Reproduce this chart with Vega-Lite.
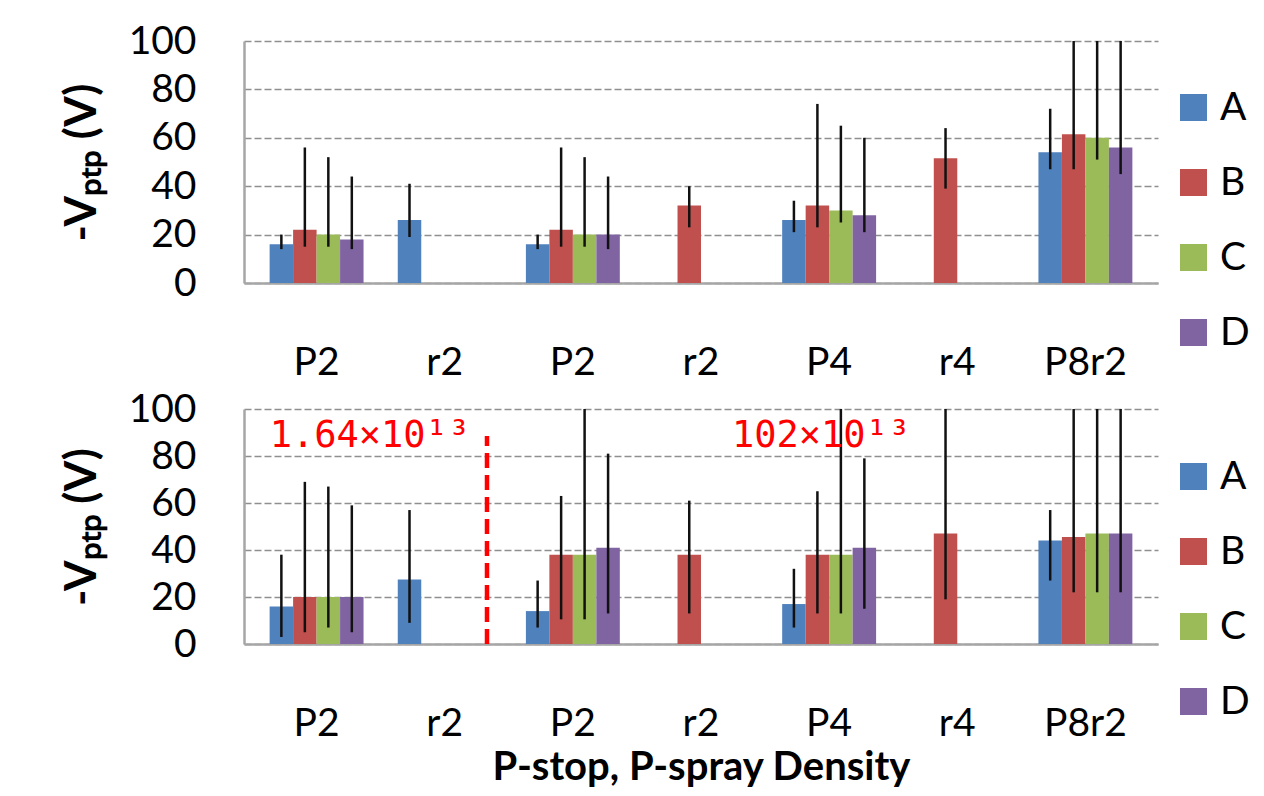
{
  "$schema": "https://vega.github.io/schema/vega-lite/v6.json",
  "background": "white",
  "padding": {"left": 60, "top": 22, "right": 5, "bottom": 5},
  "config": {
    "font": "Lato",
    "view": {"stroke": null},
    "axis": {"labelColor": "black", "titleColor": "black"},
    "legend": {"padding": 0}
  },
  "datasets": {
    "top": [
      {"grp": "P2_a", "s": "A", "v": 16, "lo": 14, "hi": 20},
      {"grp": "P2_a", "s": "B", "v": 22, "lo": 15, "hi": 56},
      {"grp": "P2_a", "s": "C", "v": 20, "lo": 15, "hi": 52},
      {"grp": "P2_a", "s": "D", "v": 18, "lo": 14, "hi": 44},
      {"grp": "r2_a", "s": "A", "v": 26, "lo": 19, "hi": 41},
      {"grp": "P2_b", "s": "A", "v": 16, "lo": 14, "hi": 20},
      {"grp": "P2_b", "s": "B", "v": 22, "lo": 15, "hi": 56},
      {"grp": "P2_b", "s": "C", "v": 20, "lo": 15, "hi": 52},
      {"grp": "P2_b", "s": "D", "v": 20, "lo": 14, "hi": 44},
      {"grp": "r2_b", "s": "B", "v": 32, "lo": 23, "hi": 40},
      {"grp": "P4", "s": "A", "v": 26, "lo": 21, "hi": 34},
      {"grp": "P4", "s": "B", "v": 32, "lo": 23, "hi": 74},
      {"grp": "P4", "s": "C", "v": 30, "lo": 25, "hi": 65},
      {"grp": "P4", "s": "D", "v": 28, "lo": 21, "hi": 60},
      {"grp": "r4", "s": "B", "v": 51.5, "lo": 39, "hi": 64},
      {"grp": "P8r2", "s": "A", "v": 54, "lo": 47, "hi": 72},
      {"grp": "P8r2", "s": "B", "v": 61.5, "lo": 47, "hi": 100},
      {"grp": "P8r2", "s": "C", "v": 60, "lo": 51, "hi": 100},
      {"grp": "P8r2", "s": "D", "v": 56, "lo": 45, "hi": 100}
    ],
    "bot": [
      {"grp": "P2_a", "s": "A", "v": 16, "lo": 3, "hi": 38},
      {"grp": "P2_a", "s": "B", "v": 20, "lo": 5, "hi": 69},
      {"grp": "P2_a", "s": "C", "v": 20, "lo": 7, "hi": 67},
      {"grp": "P2_a", "s": "D", "v": 20, "lo": 5, "hi": 59},
      {"grp": "r2_a", "s": "A", "v": 27.5, "lo": 9, "hi": 57},
      {"grp": "P2_b", "s": "A", "v": 14, "lo": 7, "hi": 27},
      {"grp": "P2_b", "s": "B", "v": 38, "lo": 10.5, "hi": 63},
      {"grp": "P2_b", "s": "C", "v": 38, "lo": 10.5, "hi": 100},
      {"grp": "P2_b", "s": "D", "v": 41, "lo": 13, "hi": 81},
      {"grp": "r2_b", "s": "B", "v": 38, "lo": 13, "hi": 61},
      {"grp": "P4", "s": "A", "v": 17, "lo": 7, "hi": 32},
      {"grp": "P4", "s": "B", "v": 38, "lo": 13, "hi": 65},
      {"grp": "P4", "s": "C", "v": 38, "lo": 13, "hi": 100},
      {"grp": "P4", "s": "D", "v": 41, "lo": 15, "hi": 79},
      {"grp": "r4", "s": "B", "v": 47, "lo": 19, "hi": 100},
      {"grp": "P8r2", "s": "A", "v": 44, "lo": 27, "hi": 57},
      {"grp": "P8r2", "s": "B", "v": 45.5, "lo": 22, "hi": 100},
      {"grp": "P8r2", "s": "C", "v": 47, "lo": 22, "hi": 100},
      {"grp": "P8r2", "s": "D", "v": 47, "lo": 22, "hi": 100}
    ]
  },
  "vconcat": [
    {
      "width": 914,
      "height": 242,
      "data": {"name": "top"},
      "encoding": {
        "x": {
          "field": "grp", "type": "nominal",
          "scale": {"domain": ["P2_a", "r2_a", "P2_b", "r2_b", "P4", "r4", "P8r2"], "paddingInner": 0.267},
          "axis": {"title": null, "labelExpr": "split(datum.label, '_')[0]", "labelAngle": 0, "labelFontSize": 39, "labelPadding": 60, "ticks": false, "domainColor": "#a6a6a6", "domainWidth": 2.5, "labelBaseline": "top"}
        },
        "xOffset": {"field": "s", "type": "nominal", "scale": {"domain": ["A", "B", "C", "D"], "paddingInner": 0}}
      },
      "layer": [
        {
          "mark": {"type": "bar"},
          "encoding": {
            "y": {
              "field": "v", "type": "quantitative",
              "scale": {"domain": [0, 100], "nice": false},
              "axis": {"title": "-Vₚₜₚ (V)", "titleFontSize": 44, "titleFontWeight": "bold", "titlePadding": 24, "values": [0, 20, 40, 60, 80, 100], "labelFontSize": 39, "labelPadding": 48, "ticks": false, "domainColor": "#a6a6a6", "domainWidth": 2.5, "gridColor": "#8f8f8f", "gridDash": [7, 3], "gridWidth": 1.5}
            },
            "color": {
              "field": "s", "type": "nominal",
              "scale": {"domain": ["A", "B", "C", "D"], "range": ["#4F81BD", "#C0504D", "#9BBB59", "#8064A2"]},
              "legend": {"title": null, "orient": "none", "legendX": 930, "legendY": 47, "symbolType": "square", "symbolSize": 729, "symbolStrokeWidth": 0, "labelFontSize": 39, "labelOffset": 7, "rowPadding": 35}
            }
          }
        },
        {
          "mark": {"type": "rule", "color": "#111111", "strokeWidth": 2.5},
          "encoding": {
            "y": {"field": "lo", "type": "quantitative"},
            "y2": {"field": "hi"}
          }
        }
      ]
    },
    {
      "width": 914,
      "height": 235,
      "encoding": {
        "x": {
          "field": "grp", "type": "nominal",
          "scale": {"domain": ["P2_a", "r2_a", "P2_b", "r2_b", "P4", "r4", "P8r2"], "paddingInner": 0.267},
          "axis": {"title": "P-stop, P-spray Density", "titleFontSize": 40, "titleFontWeight": "bold", "titlePadding": 4, "labelExpr": "split(datum.label, '_')[0]", "labelAngle": 0, "labelFontSize": 39, "labelPadding": 60, "ticks": false, "domainColor": "#a6a6a6", "domainWidth": 2.5, "labelBaseline": "top"}
        }
      },
      "layer": [
        {
          "data": {"name": "bot"},
          "mark": {"type": "bar"},
          "encoding": {
            "xOffset": {"field": "s", "type": "nominal", "scale": {"domain": ["A", "B", "C", "D"], "paddingInner": 0}},
            "y": {
              "field": "v", "type": "quantitative",
              "scale": {"domain": [0, 100], "nice": false},
              "axis": {"title": "-Vₚₜₚ (V)", "titleFontSize": 44, "titleFontWeight": "bold", "titlePadding": 24, "values": [0, 20, 40, 60, 80, 100], "labelFontSize": 39, "labelPadding": 48, "ticks": false, "domainColor": "#a6a6a6", "domainWidth": 2.5, "gridColor": "#8f8f8f", "gridDash": [7, 3], "gridWidth": 1.5}
            },
            "color": {
              "field": "s", "type": "nominal",
              "scale": {"domain": ["A", "B", "C", "D"], "range": ["#4F81BD", "#C0504D", "#9BBB59", "#8064A2"]},
              "legend": {"title": null, "orient": "none", "legendX": 930, "legendY": 48, "symbolType": "square", "symbolSize": 729, "symbolStrokeWidth": 0, "labelFontSize": 39, "labelOffset": 7, "rowPadding": 35}
            }
          }
        },
        {
          "data": {"name": "bot"},
          "mark": {"type": "rule", "color": "#111111", "strokeWidth": 2.5},
          "encoding": {
            "xOffset": {"field": "s", "type": "nominal", "scale": {"domain": ["A", "B", "C", "D"], "paddingInner": 0}},
            "y": {"field": "lo", "type": "quantitative"},
            "y2": {"field": "hi"}
          }
        },
        {
          "data": {"values": [{"grp": "r2_a", "y0": 0, "y1": 88.5}]},
          "mark": {"type": "rule", "color": "#ff0000", "strokeWidth": 4.5, "strokeDash": [15, 7]},
          "encoding": {
            "x": {"field": "grp", "type": "nominal", "bandPosition": 0.95},
            "y": {"field": "y0", "type": "quantitative"},
            "y2": {"field": "y1"}
          }
        },
        {
          "data": {"values": [{"grp": "P2_a", "yy": 84, "label": "1.64×10¹³"}]},
          "mark": {"type": "text", "color": "#ff0000", "font": "DejaVu Sans Mono", "fontSize": 37, "align": "left", "baseline": "alphabetic"},
          "encoding": {
            "x": {"field": "grp", "type": "nominal", "bandPosition": 0},
            "y": {"field": "yy", "type": "quantitative"},
            "text": {"field": "label"}
          }
        },
        {
          "data": {"values": [{"grp": "r2_b", "yy": 84, "label": "102×10¹³"}]},
          "mark": {"type": "text", "color": "#ff0000", "font": "DejaVu Sans Mono", "fontSize": 37, "align": "left", "baseline": "alphabetic"},
          "encoding": {
            "x": {"field": "grp", "type": "nominal", "bandPosition": 0.83},
            "y": {"field": "yy", "type": "quantitative"},
            "text": {"field": "label"}
          }
        }
      ]
    }
  ],
  "spacing": 8,
  "resolve": {"scale": {"color": "independent"}, "legend": {"color": "independent"}}
}
